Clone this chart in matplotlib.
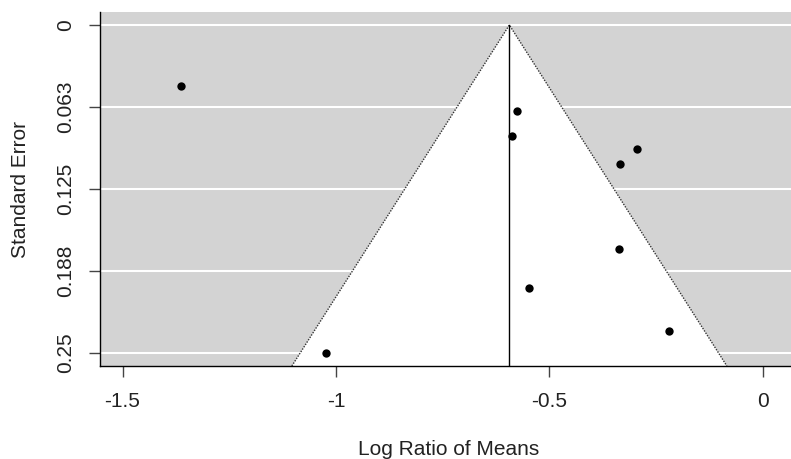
import numpy as np
import matplotlib
matplotlib.use("Agg")
import matplotlib.pyplot as plt
from matplotlib.patches import Polygon

plt.rcParams['font.family'] = ['Liberation Sans', 'DejaVu Sans']

# study estimates (log ratio of means) and standard errors
yi = [-1.364, -0.576, -0.587, -0.294, -0.334, -0.337, -0.547, -0.219, -1.023]
sei = [0.0465, 0.0655, 0.0848, 0.0943, 0.106, 0.171, 0.2007, 0.2336, 0.2502]
center = -0.594

y_ticks = [0, 0.0625, 0.125, 0.1875, 0.25]
y_labels = ['0', '0.063', '0.125', '0.188', '0.25']
x_ticks = [-1.5, -1, -0.5, 0]
x_labels = ['-1.5', '-1', '-0.5', '0']

fig = plt.figure(figsize=(7.91, 4.59), dpi=100)
ax = fig.add_axes([100 / 791, 1 - 366 / 459, 691 / 791, 354 / 459])
ax.set_facecolor('#d3d3d3')

xlim = (-1.5527, 0.0656)
ylim = (0.2599, -0.0099)
ax.set_xlim(xlim)
ax.set_ylim(ylim)

# white gridlines at the y ticks
for t in y_ticks:
    ax.axhline(t, color='white', lw=1.5, zorder=1)

# funnel (pseudo confidence region)
ybot = ylim[0]
half = 1.96 * ybot
tri = Polygon([(center - half, ybot), (center, 0), (center + half, ybot)],
              closed=True, facecolor='white', edgecolor='none', zorder=2)
ax.add_patch(tri)
ax.plot([center - half, center, center + half], [ybot, 0, ybot],
        color='#333333', lw=1.0, ls=(0, (1, 1)), zorder=3)
ax.plot([center, center], [0, ybot], color='black', lw=1.0, zorder=3)

ax.scatter(yi, sei, s=36, color='black', zorder=4, linewidths=0)

ax.set_xticks(x_ticks)
ax.set_xticklabels(x_labels)
ax.set_yticks(y_ticks)
ax.set_yticklabels(y_labels, rotation=90, va='center')

for s in ['top', 'right']:
    ax.spines[s].set_visible(False)
for s in ['left', 'bottom']:
    ax.spines[s].set_color('black')
    ax.spines[s].set_linewidth(1.0)

ax.tick_params(axis='both', direction='out', length=8, width=1.0,
               color='#444444', labelsize=15, labelcolor='#222222')
ax.tick_params(axis='x', pad=11)
ax.tick_params(axis='y', pad=10)

ax.set_xlabel('Log Ratio of Means', fontsize=15, color='#222222')
ax.set_ylabel('Standard Error', fontsize=15, color='#222222')
ax.xaxis.set_label_coords(0.505, -0.209)
ax.yaxis.set_label_coords(-0.101, 0.5)

fig.savefig('out.png', dpi=100)
